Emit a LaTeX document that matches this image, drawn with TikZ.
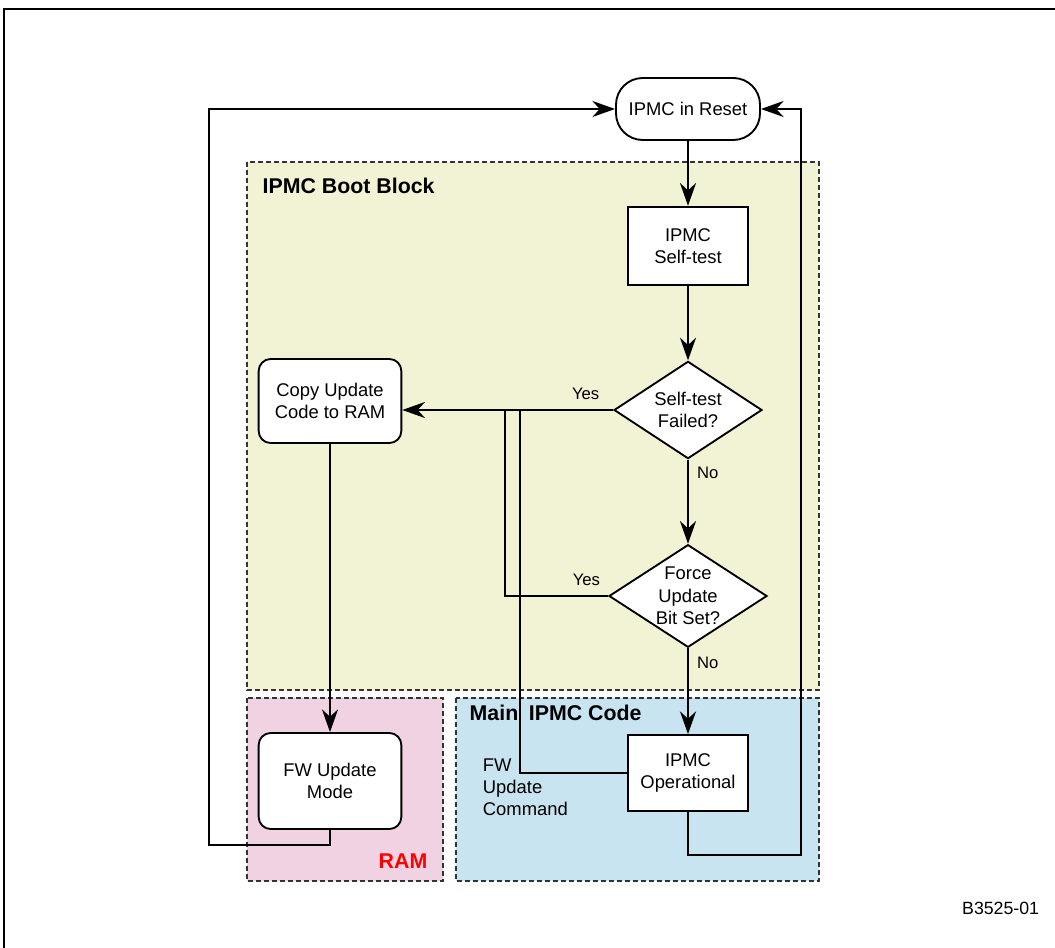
\documentclass[tikz,border=0pt]{standalone}
\usepackage{fontspec}
\setmainfont{Liberation Sans}
\usetikzlibrary{shapes.geometric,arrows.meta}

\definecolor{bootyellow}{RGB}{242,242,212}
\definecolor{rampink}{RGB}{240,210,226}
\definecolor{mainblue}{RGB}{200,228,240}

\begin{document}
\begin{tikzpicture}[x=0.75pt, y=-0.75pt, % one unit is one pixel of the picture
        box/.style={draw, line width=1.4pt, fill=white, align=center, inner sep=2pt,
            font=\fontsize{13.8}{17}\selectfont},
        decision/.style={box, diamond, aspect=1.5, inner sep=0pt},
        region/.style={draw=black!80, line width=1.1pt, dash pattern=on 3.75pt off 2.25pt},
        arr/.style={line width=1.8pt, -{Stealth[length=17pt, width=12pt, inset=5.5pt]}},
        wire/.style={line width=1.8pt},
        lbl/.style={font=\fontsize{12.5}{15}\selectfont, inner sep=2pt},
        title/.style={font=\fontsize{16}{19}\selectfont\bfseries, anchor=west}]

        \useasboundingbox (0,0) rectangle (1055,948);

        % Outer frame (cut at the right and bottom)
        \draw[line width=1.3pt] (4,948) |- (1055,9);

        % Shaded regions
        \draw[region, fill=bootyellow] (247,162) rectangle (819,690);
        \draw[region, fill=rampink] (247,698) rectangle (443,881);
        \draw[region, fill=mainblue] (456,698) rectangle (819,881);

        % Region titles
        \node[title] (boottitle) at (258,186) {IPMC Boot Block};
        \node[title] (maintitle) at (465,713) {Main\hspace{8pt}IPMC Code};
        \node[title, anchor=east, text=red] (ramtitle) at (432,861) {RAM};

        % Flow boxes
        \node[box, rounded corners=20pt, minimum width=108pt, minimum height=46.5pt] (reset) at (688,109) {IPMC in Reset};
        \node[box, minimum width=90pt, minimum height=59pt] (selftest) at (688,246) {IPMC\\Self-test};
        \node[decision, minimum width=111pt, minimum height=73pt] (failed) at (688,410) {Self-test\\Failed?};
        \node[decision, minimum width=118.5pt, minimum height=77pt] (force) at (688,596) {Force\\Update\\Bit Set?};
        \node[box, rounded corners=9pt, minimum width=107pt, minimum height=63pt] (copy) at (330,401) {Copy Update\\Code to RAM};
        \node[box, rounded corners=9pt, minimum width=107pt, minimum height=72pt] (fwmode) at (330,781) {FW Update\\Mode};
        \node[box, minimum width=90pt, minimum height=57pt] (oper) at (688,773) {IPMC\\Operational};

        % Joins and corners of the wires
        \coordinate (jforce) at (505,410);
        \coordinate (jcmd) at (520,410);
        \coordinate (lcorner) at (209,845);
        \coordinate (rcorner) at (801,855);

        % Main path
        \draw[arr] (reset) -- (selftest);
        \draw[arr] (selftest) -- (failed);
        \draw[arr] (failed) -- node[lbl, right=4pt, pos=0.16] {No} (force);
        \draw[arr] (force) -- node[lbl, right=4pt, pos=0.17] {No} (oper);

        % Update path
        \draw[arr] (failed.west) -- node[lbl, above=5pt, pos=0.13] {Yes} (copy.east |- failed.west);
        \draw[wire] (force.west) -- node[lbl, above=5pt, pos=0.21] {Yes} (force.west -| jforce) -- (jforce);
        \draw[wire] (oper.west) -| (jcmd);
        \node[lbl, font=\fontsize{13.8}{16.5}\selectfont, align=left, anchor=west] (cmdlabel) at (480,787) {FW\\Update\\Command};
        \draw[arr] (copy) -- (fwmode);

        % Back to reset
        \draw[arr] (fwmode.south) |- (lcorner) |- (reset.west);
        \draw[arr] (oper.south) |- (rcorner) |- (reset.east);

        % Figure number
        \node[lbl, font=\fontsize{13.3}{16}\selectfont, anchor=east] (fignum) at (1042,908) {B3525-01};
    \end{tikzpicture}
\end{document}
